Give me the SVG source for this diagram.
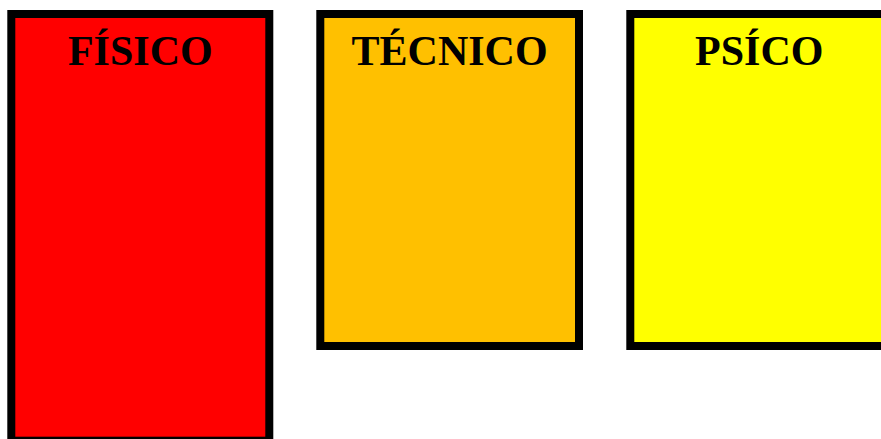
<svg xmlns="http://www.w3.org/2000/svg" width="881" height="439" viewBox="0 0 881 439">
<style>
.box{stroke:#000;stroke-width:8}
.lbl{font-family:"Liberation Serif","Times New Roman",serif;font-weight:bold;font-size:42px;fill:#000;text-anchor:middle}
</style>
<rect width="881" height="439" fill="#fff"/>
<g id="fisico">
<rect class="box" x="11.3" y="14" width="258" height="426.7" fill="#ff0000"/>
<text class="lbl" x="140.3" y="65">FÍSICO</text>
</g>
<g id="tecnico">
<rect class="box" x="320.3" y="14" width="258.7" height="332" fill="#ffc000"/>
<text class="lbl" x="449.6" y="65">TÉCNICO</text>
</g>
<g id="psico">
<rect class="box" x="630.3" y="14" width="258" height="332" fill="#ffff00"/>
<text class="lbl" x="759.3" y="65">PSÍCO</text>
</g>
<g id="connectors"/>
</svg>
